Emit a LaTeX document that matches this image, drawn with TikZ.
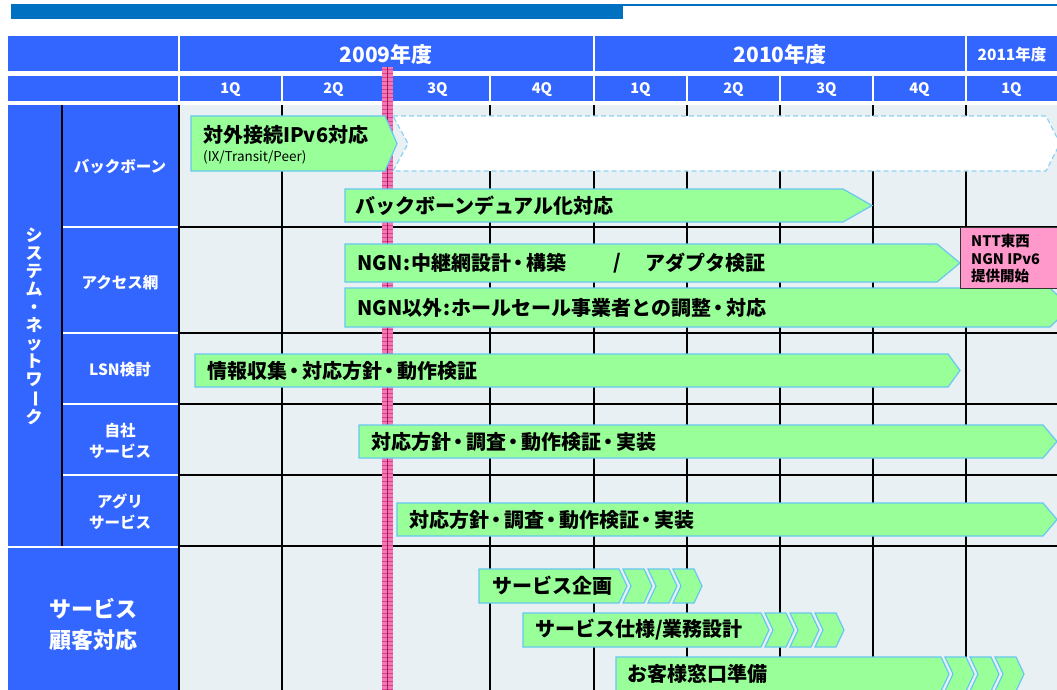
\documentclass[tikz,border=0pt]{standalone}
\usepackage{graphicx}
\usepackage{fontspec}
\setmainfont{Noto Sans CJK JP}
\usetikzlibrary{calc}
\definecolor{hdr}{RGB}{51,102,255}
\definecolor{topbar}{RGB}{0,112,192}
\definecolor{bgc}{RGB}{232,240,243}
\definecolor{grn}{RGB}{153,255,153}
\definecolor{abd}{RGB}{102,200,240}
\definecolor{dbd}{RGB}{140,210,240}
\definecolor{pinkbox}{RGB}{255,153,204}
\definecolor{pinkln}{RGB}{240,120,180}
\definecolor{pinkst}{RGB}{225,60,140}
\definecolor{pinkdk}{RGB}{160,25,85}
\newcommand\dt{\kern-2.5pt・\kern-2.5pt}
\tikzset{
 hdrcell/.style={fill=hdr},
 wlab/.style={text=white, font=\bfseries\fontsize{15.5}{21}\selectfont, align=center, inner sep=0pt},
 qlab/.style={text=white, font=\bfseries\fontsize{14.5}{16}\selectfont, inner sep=0pt},
 ylab/.style={text=white, font=\bfseries\fontsize{21}{24}\selectfont, inner sep=0pt},
 garr/.style={fill=grn, draw=abd, line width=1.2pt},
 darr/.style={fill=white, draw=dbd, line width=1.2pt, dash pattern=on 5pt off 3pt},
 atext/.style={anchor=west, font=\bfseries\fontsize{20}{22}\selectfont, inner sep=0pt},
 gridln/.style={line width=2pt, draw=black},
 wsep/.style={line width=2pt, draw=white},
}
\begin{document}
\begin{tikzpicture}[x=1pt,y=-1pt]
\useasboundingbox (0,0) rectangle (1057,690);
\clip (0,0) rectangle (1057,690);
\fill[white] (0,0) rectangle (1057,690);
% top bar
\fill[topbar] (11,4) rectangle (623,19);
\fill[topbar] (623,4) rectangle (1057,6);
% header row 1
\fill[hdrcell] (8,36) rectangle (178,71);
\fill[hdrcell] (180,36) rectangle (593,71);
\fill[hdrcell] (595,36) rectangle (965,71);
\fill[hdrcell] (967,36) rectangle (1057,71);
% header row 2
\fill[hdrcell] (8,76) rectangle (178,101);
\foreach \a/\b in {180/281,283/384,386/489,491/593,595/686,688/779,781/872,874/965,967/1057}
  \fill[hdrcell] (\a,76) rectangle (\b,101);
\node (y09) [ylab] at (386,55) {2009年度};
\node (y10) [ylab] at (780,55) {2010年度};
\node (y11) [qlab, font=\bfseries\fontsize{15.5}{16}\selectfont] at (1012,55) {2011年度};
\node (q1) [qlab] at (230.5,89.5) {1Q};
\node (q2) [qlab] at (333.5,89.5) {2Q};
\node (q3) [qlab] at (437.5,89.5) {3Q};
\node (q4) [qlab] at (542,89.5) {4Q};
\node (q5) [qlab] at (640.5,89.5) {1Q};
\node (q6) [qlab] at (733.5,89.5) {2Q};
\node (q7) [qlab] at (826.5,89.5) {3Q};
\node (q8) [qlab] at (919.5,89.5) {4Q};
\node (q9) [qlab] at (1011.5,89.5) {1Q};
% body background
\fill[bgc] (180,105) rectangle (1057,690);
% left cells
\fill[hdrcell] (8,105) rectangle (61,546);
\fill[hdrcell] (63,105) rectangle (178,546);
\fill[hdrcell] (8,547) rectangle (178,690);
\draw[gridln] (62,105) -- (62,546);
\draw[gridln] (179,105) -- (179,690);
\foreach \y in {227,333,404,475} \draw[wsep] (63,\y) -- (178,\y);
\draw[wsep] (8,546.5) -- (178,546.5);
% grid
\foreach \y in {227,333,404,475,546} \draw[gridln] (179,\y) -- (1057,\y);
\foreach \x in {282,385,490,594,687,780,873,966} \draw[gridln] (\x,105) -- (\x,690);
% left labels
\node (sys) [wlab, font=\bfseries\fontsize{17}{18}\selectfont] at (34,326) {シ\\ス\\テ\\ム\\・\\ネ\\ッ\\ト\\ワ\\\rotatebox[origin=c]{-90}{ー}\\ク};
\node (bb) [wlab] at (120,167) {バックボーン};
\node (acc) [wlab] at (120,283) {アクセス網};
\node (lsn) [wlab] at (120,370) {LSN検討};
\node (jisha) [wlab] at (120,441) {自社\\サービス};
\node (agri) [wlab] at (120,512) {アグリ\\サービス};
\node (svc) [wlab, font=\bfseries\fontsize{22}{31}\selectfont] at (93,624) {サービス\\顧客対応};
% pink line
\fill[pinkln] (382,67) rectangle (393,690);
\foreach \y in {69,73,...,689} \draw[pinkst, line width=0.7pt] (382,\y) -- (393,\y);
\draw[pinkdk, line width=1.3pt] (387.5,67) -- (387.5,690);
% arrows
\filldraw[darr] (393,116) -- (1046,116) -- (1060,143.5) -- (1046,171) -- (393,171) -- (408,143.5) -- cycle;
\filldraw[garr] (191,116) -- (385,116) -- (397,143.5) -- (385,171) -- (191,171) -- cycle;
\filldraw[garr] (345,189) -- (843,189) -- (872,205.5) -- (843,222) -- (345,222) -- cycle;
\filldraw[garr] (345,244) -- (937,244) -- (960,263) -- (937,282) -- (345,282) -- cycle;
\filldraw[garr] (345,288) -- (1050,288) -- (1070,307.5) -- (1050,327) -- (345,327) -- cycle;
\filldraw[garr] (195,354) -- (948,354) -- (960,370.5) -- (948,387) -- (195,387) -- cycle;
\filldraw[garr] (359,425) -- (1043,425) -- (1057,441.5) -- (1043,458) -- (359,458) -- cycle;
\filldraw[garr] (397,503) -- (1043,503) -- (1057,519.5) -- (1043,536) -- (397,536) -- cycle;
% service arrows with chevrons
\filldraw[garr] (479,569) -- (619,569) -- (627,586) -- (619,603) -- (479,603) -- cycle;
\foreach \x in {623,648,673}
  \filldraw[garr] (\x,569) -- ++(21,0) -- ++(8,17) -- ++(-8,17) -- ++(-21,0) -- ++(8,-17) -- cycle;
\filldraw[garr] (523,613) -- (761,613) -- (769,630) -- (761,647) -- (523,647) -- cycle;
\foreach \x in {765,790,815}
  \filldraw[garr] (\x,613) -- ++(21,0) -- ++(8,17) -- ++(-8,17) -- ++(-21,0) -- ++(8,-17) -- cycle;
\filldraw[garr] (616,657) -- (941,657) -- (949,674) -- (941,691) -- (616,691) -- cycle;
\foreach \x in {945,970,995}
  \filldraw[garr] (\x,657) -- ++(21,0) -- ++(8,17) -- ++(-8,17) -- ++(-21,0) -- ++(8,-17) -- cycle;
% NTT box
\filldraw[fill=pinkbox, draw=black!80, line width=1pt] (960,227) rectangle (1058,288);
\node (ntt) [anchor=west, align=left, inner sep=0pt, font=\bfseries\fontsize{14.5}{17.5}\selectfont] at (971,259) {NTT東西\\NGN IPv6\\提供開始};
% arrow texts
\node (t1) [atext] at (203,135) {対外接続IPv6対応};
\node (t1s) [anchor=west, inner sep=0pt, font=\fontsize{13.5}{15}\selectfont] at (203,157) {(IX/Transit/Peer)};
\node (t2) [atext] at (355,205.5) {バックボーンデュアル化対応};
\node (t3) [atext] at (357,263) {NGN\kern1pt:\kern1pt 中継網設計\dt 構築};
\node (t3b) [atext, anchor=center] at (617,263) {/};
\node (t3c) [atext] at (645,263) {アダプタ検証};
\node (t4) [atext] at (357,307.5) {NGN以外\kern1pt:\kern1pt ホールセール事業者との調整\dt 対応};
\node (t5) [atext] at (207,370.5) {情報収集\dt 対応方針\dt 動作検証};
\node (t6) [atext] at (371,441.5) {対応方針\dt 調査\dt 動作検証\dt 実装};
\node (t7) [atext] at (409,519.5) {対応方針\dt 調査\dt 動作検証\dt 実装};
\node (s1) [atext] at (492,586) {サービス企画};
\node (s2) [atext] at (535,630) {サービス仕様/業務設計};
\node (s3) [atext] at (627,674) {お客様窓口準備};
\end{tikzpicture}
\end{document}
